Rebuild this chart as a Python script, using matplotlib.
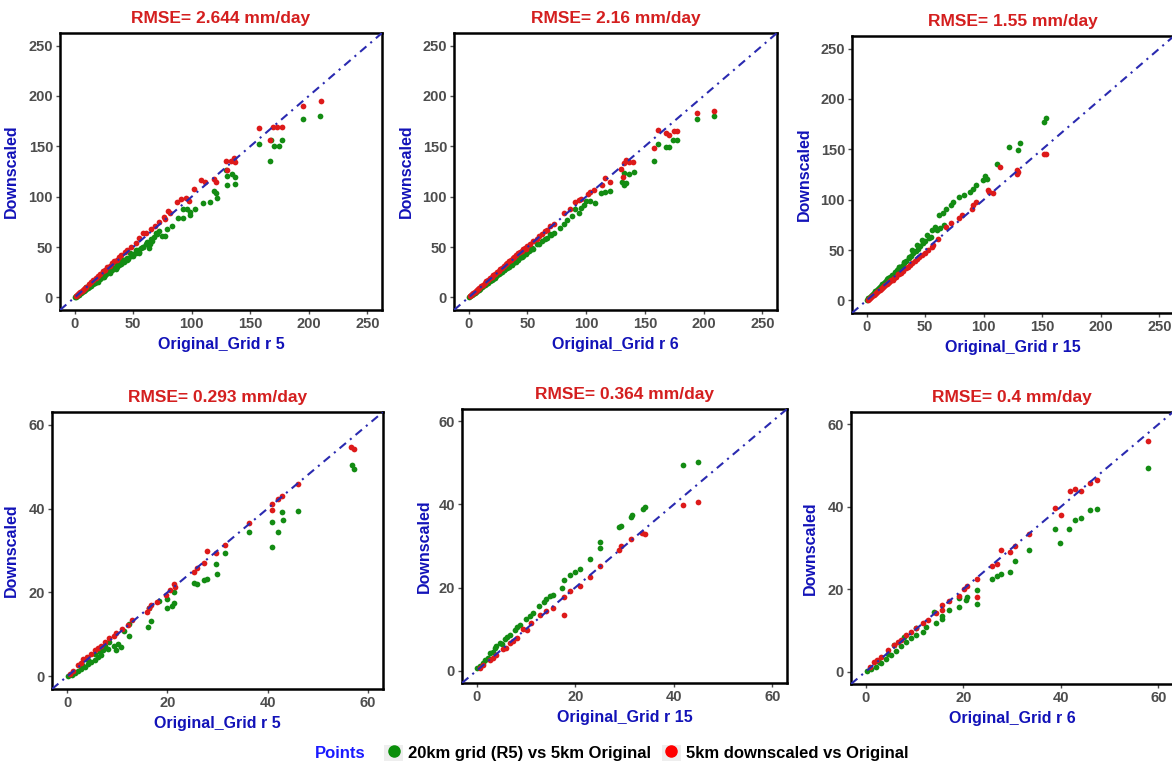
import matplotlib
matplotlib.use("Agg")
import matplotlib.pyplot as plt
from matplotlib.lines import Line2D
from matplotlib.patches import Rectangle
from matplotlib.legend_handler import HandlerTuple
import numpy as np

plt.rcParams['font.family'] = ['Liberation Sans', 'DejaVu Sans']
plt.rcParams['font.weight'] = 'bold'

# ---- data (x = original, y = downscaled) ----
titles = ["RMSE= 2.644 mm/day", "RMSE= 2.16 mm/day", "RMSE= 1.55 mm/day",
          "RMSE= 0.293 mm/day", "RMSE= 0.364 mm/day", "RMSE= 0.4 mm/day"]
xlabels = ["Original_Grid r 5", "Original_Grid r 6", "Original_Grid r 15",
           "Original_Grid r 5", "Original_Grid r 15", "Original_Grid r 6"]
ticks_top = [0, 50, 100, 150, 200, 250]
ticks_bottom = [0, 20, 40, 60]

p1_green = [(0.5, 0.3), (1, 0.8), (1.5, 1.2), (2, 1.7), (3, 2.5), (3.5, 2.8), (4, 3.4), (5, 4.2),
            (5.5, 4.6), (6, 5.2), (7, 6), (8, 6.6), (9, 7.8), (10, 8.5), (11, 9.1), (12, 10.4),
            (13, 11), (14, 11.8), (15, 13), (16, 13.5), (17, 14.8), (18, 15.2), (19, 16.5), (20, 17),
            (21, 18.4), (22, 18.6), (23, 20), (24, 20.5), (25, 21.8), (26, 22), (27, 23.5), (28, 23.8),
            (29, 25.2), (30, 25.5), (31, 27), (32, 27.2), (33, 28.8), (34, 29), (35, 30.5), (36, 30.2),
            (37, 32), (38, 32.4), (40, 34), (41, 36), (42, 35.5), (44, 37.8), (45, 39.5), (46, 38.5),
            (48, 41), (50, 43), (52, 44.5), (54, 47), (55, 45), (57, 49), (58, 50.5), (10, 10),
            (15, 14.5), (20, 19.5), (25, 24.5), (30, 29.5), (35, 34), (40, 38.5), (60.7, 52.7),
            (20, 15.5), (25, 20), (30, 24.5), (35, 28.5), (40, 33), (45, 37), (50, 41), (55, 44),
            (47, 44), (52, 47.5), (62, 55), (65, 58), (68, 60), (70, 63), (64, 53),
            (63.5, 49.4), (58, 50.4), (66.3, 56), (69.1, 64.2), (74.7, 61), (77.5, 61), (83, 70.8),
            (78.9, 67.5), (72, 66), (88.6, 79), (92.8, 79), (95.6, 87.3), (98.4, 84.7), (102.6, 87.3),
            (98.4, 82), (92.8, 88), (109.5, 93.9), (115.6, 94.9), (121.5, 98.2), (119.3, 105.4),
            (121, 103.8), (129.3, 126), (130.5, 121), (134.6, 123), (137, 120), (136.6, 113),
            (130.5, 112), (157.5, 152.5), (167.8, 156.5), (170, 150), (174.5, 150), (177.3, 156.5),
            (166.7, 135.7), (195.4, 176.9), (209.9, 180.5)]
p1_red = [(1, 1.2), (2, 2.3), (3, 3.4), (4, 4.5), (5, 5.5), (6, 6.6), (7, 7.5), (8, 8.8), (9, 9.6),
          (10, 10.8), (12, 13), (14, 15), (16, 17.4), (18, 19.2), (20, 21.5), (22, 23.2), (24, 25.8),
          (26, 27.5), (28, 30), (30, 31.5), (32, 33.8), (34, 36), (36, 37.5), (38, 40.5), (40, 41.8),
          (43, 45.5), (45, 47), (48, 50), (52, 54), (55, 58.5), (58, 63.6), (60.7, 64.2), (65, 67.5),
          (69, 70.8), (72, 74.8), (76, 80), (77.5, 77.4), (79.7, 85.6), (81.7, 84), (87.2, 94.5),
          (90.9, 97.8), (95, 98.2), (97.5, 95.5), (102, 107.7), (107.6, 117), (111.5, 115),
          (119.3, 117.6), (120.7, 114.3), (129.3, 135.7), (133.2, 135), (136, 138), (136.6, 134.4),
          (130, 126), (157.6, 168), (167.2, 156.5), (169, 169), (172.8, 169.3), (176.7, 169.3),
          (195, 190), (210, 195)]

p2_green = [(0.5, 0.4), (1.5, 1.2), (2.5, 2.1), (3.5, 3), (4.5, 3.9), (5.5, 4.8), (6.5, 5.7),
            (7.5, 6.6), (8.5, 7.5), (10, 8.8), (11, 9.9), (12.5, 11.2), (14, 12.4), (15, 13.6),
            (16.5, 14.8), (18, 16), (19, 17.3), (20.5, 18.4), (22, 19.6), (23, 21), (24.5, 22),
            (26, 23.2), (27, 24.6), (28.5, 25.6), (30, 26.8), (31, 28.2), (32.5, 29), (34, 30.4),
            (35, 31.8), (36.5, 32.6), (38, 34), (39, 35.5), (40.5, 36.2), (42, 37.6), (43, 39),
            (44.5, 39.8), (46, 41.2), (47, 42.8), (48.5, 43.5), (50, 45), (9, 8.5), (17, 16.5),
            (25, 24.2), (33, 32), (20, 17.5), (30, 27), (40, 35.5), (55, 48), (60, 53), (65, 58),
            (70, 62), (45, 40.5), (52, 47),
            (51, 46), (54, 49.3), (58.3, 52.6), (62.5, 56), (66.7, 59.2),
            (69.5, 62.5), (72.4, 64), (78, 69), (80.8, 72.4), (83.7, 77.3), (88, 81), (90.8, 87.8),
            (93.6, 83.9), (95.7, 88.8), (98, 92), (100, 95.4), (103.5, 95.4), (107.7, 93.8),
            (112.6, 103.6), (116.2, 104.3), (120.5, 105.3), (130.4, 115), (132.4, 111.8), (134, 114),
            (132.6, 123.4), (136.6, 122.7), (140.6, 124.3), (157.8, 135.8), (161.6, 152.3),
            (168, 149.7), (170.8, 149.7), (174.2, 156.3), (177, 156.3), (194, 177), (208.7, 180)]
p2_red = [(1, 1.1), (2, 2.2), (3, 3.3), (4, 4.3), (5, 5.5), (6, 6.4), (7, 7.6), (8, 8.5), (9, 9.7),
          (10.5, 11), (12, 12.8), (13.5, 14.2), (15, 15.9), (16.5, 17.2), (18, 19), (19.5, 20.3),
          (21, 22), (22.5, 23.4), (24, 25.2), (25.5, 26.5), (27, 28.2), (28.5, 29.6), (30, 31.2),
          (31.5, 32.7), (33, 34.4), (34.5, 35.8), (36, 37.5), (37.5, 38.8), (39, 40.6), (40.5, 42),
          (42, 43.6), (43.5, 45), (45, 46.5), (46.5, 48), (48, 49.4), (48.4, 47.7), (52.6, 52.6),
          (50, 51), (55, 56), (60, 61), (65, 66),
          (58.3, 57.6), (62.5, 62.5), (66.7, 67.4), (69.5, 70.7), (72.4, 73), (80.8, 83.9),
          (86.5, 87.8), (90.8, 94.4), (93.6, 97), (95.6, 97.7), (102, 103), (103.5, 105),
          (106.3, 107), (113.4, 111.8), (115.7, 118.4), (120.5, 114.5), (129.8, 127.6),
          (131, 120), (132.6, 133.2), (134, 136.5), (136.9, 134.9), (140.3, 134.9), (157.8, 148),
          (161.6, 166), (168, 162.8), (170.8, 161), (174.8, 165), (177, 165), (194, 183.5),
          (208.7, 185.2)]

p3_green = [(0.5, 0.8), (1.5, 2), (2.5, 3.2), (3.5, 4.4), (4.5, 5.6), (5.5, 6.8), (6.5, 7.6),
            (7.5, 9), (8.5, 10), (9.5, 11.4), (10.5, 12.4), (11.5, 13.8), (12.5, 14.6), (13.5, 16.2),
            (14.5, 17), (15.5, 18.5), (16.5, 19.4), (17.5, 21), (18.5, 22), (8, 8.5), (11, 11.8),
            (14, 14.8), (17, 18), (20, 21.5), (19.7, 23.7), (22, 25.5), (23.8, 28.7), (24, 27),
            (26, 30.5), (28, 33.6), (28, 33), (30, 34.5), (32, 38.5), (32, 37.5), (34, 39),
            (36.2, 43.5), (36, 42), (38.9, 50), (38, 44.5), (40, 47), (42, 49.5), (43, 55), (44, 51),
            (46, 54), (47.1, 60), (48, 57), (50, 58.5), (51.3, 64.9), (53, 62), (55, 63), (56, 69.8),
            (58.7, 73), (60, 70), (62.2, 84.6), (63, 72), (64.9, 86.3), (66, 75), (67.7, 91.2),
            (71.8, 94.5), (74, 97.8), (78.7, 102.8), (82.8, 104.4), (88.3, 107.7), (91, 111),
            (93.2, 114.3), (99.2, 119.2), (101.4, 124), (102.5, 121), (111.6, 135.7), (121.2, 152.2),
            (129, 149), (130.8, 156), (151.3, 176.9), (153.5, 181)]
p3_red = [(1, 0.8), (2, 1.8), (3, 2.7), (4, 3.8), (5, 4.7), (6, 5.6), (7, 6.7), (8, 7.6), (9, 8.5),
          (10, 9.6), (11, 10.4), (12, 11.5), (13, 12.3), (14, 13.4), (15, 14.2), (16, 15.3),
          (17, 16.1), (18, 17.2), (19, 18), (20, 19.1), (21, 20), (22.5, 20.4), (23, 22), (25, 23.6),
          (27, 25.8), (28, 26.4), (29, 27.5), (31, 29.6), (33.4, 32), (35, 33.5), (37, 35.5),
          (39, 36.9), (41, 39.5), (43, 41.5), (44.4, 42.8), (47, 45), (49.9, 46.8), (52, 50),
          (55.4, 53.4), (57, 55), (60.9, 60.6), (67.7, 73), (71.8, 77), (78.7, 81.4), (81.4, 84.6),
          (89.6, 90.3), (91, 94.5), (93.2, 97.8), (103.3, 110), (104.7, 107.7), (107.5, 106.7),
          (113.5, 132.4), (128, 129.8), (128, 125.8), (129.4, 127.5), (151.3, 145.6), (153.5, 145.6)]

p4_green = [(0.2, 0.1), (0.9, 0.4), (1.5, 0.8), (2.2, 1.2), (2.8, 1.8), (3.5, 2.2), (4.2, 3),
            (4.8, 3.4), (5.5, 4), (6.1, 4.6), (6.8, 5), (7.5, 7.3), (8.1, 6.5), (9.4, 7.3),
            (10.1, 7.7), (11.4, 10.9), (12.4, 9.7), (12.4, 12.5), (8.4, 8.1), (7.1, 6.4), (5.5, 5.4),
            (4.2, 3.8), (9.8, 6.2), (10.8, 6.9), (3, 2.8), (6.5, 5.8), (16.2, 11.7), (16.7, 13.2),
            (16.4, 16.2), (18.3, 18), (19.9, 18.5), (19.9, 16.4), (21, 16.8), (21.3, 17.4),
            (21.3, 20), (25.3, 22.3), (25.9, 21.9), (27.4, 22.9), (27.9, 23.3), (29.9, 24.3),
            (29.8, 26.8), (31.5, 29.3), (36.2, 34.5), (40.8, 30.8), (42.1, 34.4), (40.8, 36.8),
            (43, 37.3), (42.8, 39.2), (46.1, 39.4), (56.8, 50.3), (57.2, 49.4)]
p4_red = [(0.5, 0.6), (1.2, 1.4), (2.2, 2.6), (3.2, 4.2), (4.8, 5.4), (6.1, 6.7), (6.8, 7.3),
          (8.4, 9.1), (9.4, 9.7), (9.8, 10.3), (12.1, 12.2), (13, 13.5), (16, 15.4), (16.4, 16.2),
          (16.7, 17), (17.9, 17.7), (19.7, 19.3), (20.6, 20.6), (21.6, 21.4), (21.3, 21.9),
          (25.3, 24.8), (25.9, 25.9), (27.4, 27), (27.9, 30), (29.8, 29.3), (31.5, 31.4),
          (36.2, 36.5), (40.8, 39.7), (40.8, 41.1), (42.1, 42.3), (42.8, 43), (46.1, 45.8),
          (56.6, 54.7), (57.2, 54.3), (2.8, 3.1), (4, 4.6), (5.5, 6.2), (7.5, 8.2), (11, 11.4)]

p5_green = [(0.1, 0.5), (0.7, 1.1), (1.7, 2.6), (2.7, 4.2), (3.7, 5.4), (4.7, 6.6), (5.7, 7.6),
            (6.7, 8.6), (7.8, 9.8), (8.8, 11), (10, 12.4), (10.8, 13.1), (11.5, 13.9), (12.7, 15.5),
            (13.6, 16.5), (14.1, 17.3), (14.8, 17.9), (15.5, 18.3), (17.4, 19.9), (17.7, 21.9),
            (18.9, 23.1), (19.9, 23.7), (20.9, 24.4), (22.9, 26.8), (25.1, 29.4), (25.1, 31),
            (28.9, 34.6), (29.3, 34.8), (31.3, 36.9), (31.5, 37.4), (33.7, 39), (34.1, 39.4),
            (41.9, 49.5), (45, 50.3), (8.1, 10.6), (6.1, 8.2), (4, 5.8), (2.2, 3), (3.2, 4.4),
            (5.2, 6.5), (1.2, 1.8)]
p5_red = [(1.3, 1.4), (2.7, 2.6), (4, 3.8), (5.4, 5.2), (6.7, 6.6), (8.1, 7.8), (9.4, 10),
          (11.1, 11.5), (12.8, 13.5), (14.1, 14.3), (15.5, 15.1), (17.7, 13.5), (17.7, 17.7),
          (18.9, 19.1), (20.9, 20.3), (22.9, 22.6), (25.1, 25.3), (28.9, 29), (29.3, 30),
          (31.4, 31.6), (33.6, 33.2), (34.1, 32.8), (41.9, 39.8), (45, 40.6), (3.3, 3), (6, 5.5),
          (7.4, 7.2), (10.2, 9.8), (0.6, 0.5)]

p6_green = [(0.3, 0.2), (1.2, 0.7), (2.2, 1.2), (3.2, 2), (4.2, 3), (5.2, 4.1), (6.2, 5.1),
            (7.3, 6.1), (8.3, 7.3), (9.3, 8.1), (10.3, 8.9), (11.7, 9.7), (12.3, 10.8), (14, 14.4),
            (14.4, 11.9), (15.7, 12.7), (15.7, 13.4), (17.1, 15), (19.1, 15.8), (19.1, 17.8),
            (20.5, 17.4), (20.8, 18.1), (22.8, 16.5), (22.8, 19.9), (25.9, 22.5), (26.9, 23.1),
            (27.8, 23.7), (29.6, 24.2), (30.6, 26.9), (33.4, 29.4), (39.8, 31.1), (38.8, 34.7),
            (41.6, 34.6), (43, 36.7), (44.2, 37.3), (45.9, 39.2), (47.4, 39.5), (57.9, 49.5),
            (5.9, 6.5), (7.9, 8.5), (10.3, 10.5), (4.5, 4.2), (2.7, 2.3)]
p6_red = [(0.8, 1.2), (1.8, 2.4), (3.2, 3.6), (4.5, 5.3), (5.9, 6.5), (7.3, 7.7), (8.3, 8.9),
          (9.3, 9.7), (10.3, 10.5), (11.7, 11.9), (12.7, 12.6), (14.4, 14.2), (15.7, 15),
          (15.7, 16.2), (17.1, 17.2), (19.1, 18.4), (20.1, 20), (20.8, 20.9), (22.8, 18.2),
          (22.8, 22.5), (25.9, 25.7), (26.9, 26), (27.8, 29.4), (29.6, 29), (30.6, 30.4),
          (33.4, 33.3), (38.8, 39.7), (40, 38.1), (41.8, 43.8), (43, 44.2), (44.2, 43.8),
          (45.9, 45.8), (47.4, 46.6), (57.9, 56), (2.4, 2.9), (6.6, 7.2)]

panel_data = [(p1_green, p1_red), (p2_green, p2_red), (p3_green, p3_red),
              (p4_green, p4_red), (p5_green, p5_red), (p6_green, p6_red)]

# ---- layout (pixel boxes of each panel frame: left, top, width, height) ----
W, H = 1172, 764
boxes = [(60, 33, 322, 277), (454, 33, 323, 277), (852, 36, 322, 277),
         (52, 412, 331, 277), (462, 409, 325, 274), (851, 412, 322, 272)]
ylab_off = [41, 40, 40, 33, 30, 33]

GREEN = '#138c13'
RED = '#dd1a1a'
BLUE_LINE = '#2a2ab0'
LABEL_BLUE = '#1212b8'
TICK_GRAY = '#4d4d4d'

fig = plt.figure(figsize=(W / 100, H / 100), dpi=100)

for i, ((gr, rd), box) in enumerate(zip(panel_data, boxes)):
    left, top, w, h = box
    ax = fig.add_axes([left / W, 1 - (top + h) / H, w / W, h / H])
    gr = np.array(gr)
    rd = np.array(rd)
    ax.scatter(gr[:, 0], gr[:, 1], s=17, color=GREEN, linewidths=0, zorder=2)
    ax.scatter(rd[:, 0], rd[:, 1], s=17, color=RED, linewidths=0, zorder=2)
    line = ax.axline((0, 0), slope=1, color=BLUE_LINE, lw=1.5, zorder=3)
    line.set_dashes([4, 2.5, 1, 2.5])

    ticks = ticks_top if i < 3 else ticks_bottom
    span = ticks[-1] - ticks[0]
    lo, hi = ticks[0] - 0.05 * span, ticks[-1] + 0.05 * span
    ax.set_xlim(lo, hi)
    ax.set_ylim(lo, hi)
    ax.set_xticks(ticks)
    ax.set_yticks(ticks)
    ax.tick_params(length=3, width=1, color=TICK_GRAY, labelcolor=TICK_GRAY,
                   labelsize=10.5, pad=2)
    for lab in ax.get_xticklabels() + ax.get_yticklabels():
        lab.set_fontweight('bold')
    for sp in ax.spines.values():
        sp.set_linewidth(1.8)
        sp.set_color('black')

    ax.set_title(titles[i], color='#d41f1f', fontsize=12.5, fontweight='bold', pad=7)
    ax.set_xlabel(xlabels[i], color=LABEL_BLUE, fontsize=11.5, fontweight='bold')
    ax.set_ylabel("Downscaled", color=LABEL_BLUE, fontsize=11.5, fontweight='bold')
    ax.xaxis.set_label_coords(0.5, -27 / h)
    ax.yaxis.set_label_coords(-ylab_off[i] / w, 0.5)

# ---- legend at bottom ----
fig.text(315 / W, 1 - 753 / H, "Points", color='#1a1aff', fontsize=12,
         fontweight='bold', va='center', ha='left')
key_g = (Rectangle((0, 0), 1, 1, facecolor='#eeeeee', edgecolor='none'),
         Line2D([], [], marker='o', ls='none', color='#0a8f0a', markersize=8))
key_r = (Rectangle((0, 0), 1, 1, facecolor='#eeeeee', edgecolor='none'),
         Line2D([], [], marker='o', ls='none', color='#ff0000', markersize=8))
fig.legend(handles=[key_g, key_r],
           labels=["20km grid (R5) vs 5km Original", "5km downscaled vs Original"],
           handler_map={tuple: HandlerTuple(ndivide=1, pad=0)},
           loc='center left', bbox_to_anchor=(376 / W, 1 - 753 / H), ncol=2,
           frameon=False, handlelength=1.1, handleheight=1.1, handletextpad=0.3,
           columnspacing=0.7, borderpad=0, prop={'size': 12, 'weight': 'bold'})

fig.savefig("out.png", dpi=100)
